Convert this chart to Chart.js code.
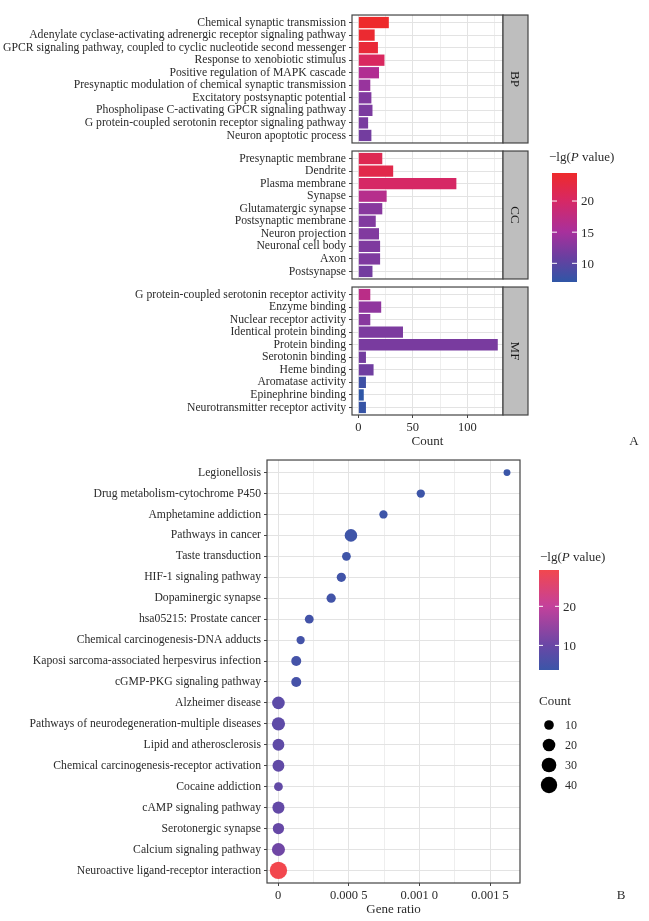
<!DOCTYPE html>
<html>
<head>
<meta charset="utf-8">
<script src="https://cdn.jsdelivr.net/npm/chart.js@4.4.0/dist/chart.umd.min.js"></script>
<style>
  html, body { margin: 0; padding: 0; background: #fff; }
  #wrap { position: relative; width: 649px; height: 921px; overflow: hidden; }
  #wrap canvas { position: absolute; left: 0; }
</style>
</head>
<body>
<div id="wrap"></div>
<script>
// ---- data: GO enrichment (panel A) ----
const bpTerms = ["Chemical synaptic transmission", "Adenylate cyclase-activating adrenergic receptor signaling pathway",
  "GPCR signaling pathway, coupled to cyclic nucleotide second messenger", "Response to xenobiotic stimulus",
  "Positive regulation of MAPK cascade", "Presynaptic modulation of chemical synaptic transmission",
  "Excitatory postsynaptic potential", "Phospholipase C-activating GPCR signaling pathway",
  "G protein-coupled serotonin receptor signaling pathway", "Neuron apoptotic process"];
const bpCounts = [28, 15, 18, 24, 19, 11, 12, 13, 9, 12];
const bpLogP = [24.5, 24.0, 23.5, 20.5, 16.0, 14.0, 12.5, 12.2, 12.0, 11.6];

const ccTerms = ["Presynaptic membrane", "Dendrite", "Plasma membrane", "Synapse", "Glutamatergic synapse",
  "Postsynaptic membrane", "Neuron projection", "Neuronal cell body", "Axon", "Postsynapse"];
const ccCounts = [22, 32, 90, 26, 22, 16, 19, 20, 20, 13];
const ccLogP = [21.5, 22.0, 20.0, 16.5, 13.0, 12.5, 12.5, 12.4, 12.4, 11.6];

const mfTerms = ["G protein-coupled serotonin receptor activity", "Enzyme binding", "Nuclear receptor activity",
  "Identical protein binding", "Protein binding", "Serotonin binding", "Heme binding", "Aromatase activity",
  "Epinephrine binding", "Neurotransmitter receptor activity"];
const mfCounts = [11, 21, 11, 41, 128, 7, 14, 7, 5, 7];
const mfLogP = [17.0, 13.5, 13.0, 12.2, 12.0, 11.6, 11.4, 8.0, 7.0, 7.5];

const countTicksA = [0, 25, 50, 75, 100, 125];
const colorTicksA = [10, 15, 20];

// ---- data: KEGG enrichment (panel B) ----
const keggTerms = ["Legionellosis", "Drug metabolism-cytochrome P450", "Amphetamine addiction", "Pathways in cancer",
  "Taste transduction", "HIF-1 signaling pathway", "Dopaminergic synapse", "hsa05215: Prostate cancer",
  "Chemical carcinogenesis-DNA adducts", "Kaposi sarcoma-associated herpesvirus infection", "cGMP-PKG signaling pathway",
  "Alzheimer disease", "Pathways of neurodegeneration-multiple diseases", "Lipid and atherosclerosis",
  "Chemical carcinogenesis-receptor activation", "Cocaine addiction", "cAMP signaling pathway", "Serotonergic synapse",
  "Calcium signaling pathway", "Neuroactive ligand-receptor interaction"];
const keggRatio = [0.00162, 0.00101, 0.000746, 0.000516, 0.000484, 0.000448, 0.000376, 0.000221, 0.00016, 0.000129,
  0.000129, 0.000003, 0.000003, 0.000003, 0.000003, 0.000003, 0.000003, 0.000003, 0.000003, 0.000003];
const keggCount = [5, 7, 7, 20, 8, 9, 9, 8, 7, 11, 11, 20, 23, 17, 17, 8, 18, 15, 22, 46];
const keggLogP = [3.7, 4.0, 4.0, 4.3, 4.2, 4.5, 4.6, 4.8, 4.9, 5.0, 5.2, 8.2, 8.4, 8.6, 8.9, 9.0, 9.2, 9.5, 10.8, 29.3];

const ratioTicks = [0, 0.00025, 0.0005, 0.00075, 0.001, 0.00125, 0.0015];
const ratioTickLabels = ["0", "0.000 5", "0.001 0", "0.001 5"];
const colorTicksB = [10, 20];
const countBreaks = [10, 20, 30, 40];

// ---- styling ----
const W = 649;
const SERIF = '"Liberation Serif", "Times New Roman", serif';
const INK = '#2b2b2b';
const FRAME = '#444444';
const GRID = '#e3e3e3';
const GRID_MINOR = '#eeeeee';

const gradA = [[0, '#2f56a6'], [0.23, '#6a3fa0'], [0.46, '#a8309c'], [0.74, '#d62866'], [1, '#ee2a2b']];
const gradB = [[0, '#3b56a8'], [0.25, '#6a47a6'], [0.64, '#c4419b'], [1, '#f2474e']];

function hexRgb(h) { return [1, 3, 5].map(i => parseInt(h.substr(i, 2), 16)); }
function colorAt(stops, t) {
  t = Math.max(0, Math.min(1, t));
  for (let i = 1; i < stops.length; i++) {
    if (t <= stops[i][0]) {
      const f = (t - stops[i - 1][0]) / (stops[i][0] - stops[i - 1][0]);
      const a = hexRgb(stops[i - 1][1]), b = hexRgb(stops[i][1]);
      return 'rgb(' + a.map((v, k) => Math.round(v + (b[k] - v) * f)).join(',') + ')';
    }
  }
  return stops[stops.length - 1][1];
}

const allLogA = bpLogP.concat(ccLogP, mfLogP);
const minA = Math.min(...allLogA), maxA = Math.max(...allLogA);
const minB = Math.min(...keggLogP), maxB = Math.max(...keggLogP);
const fillA = v => colorAt(gradA, (v - minA) / (maxA - minA));
const fillB = v => colorAt(gradB, (v - minB) / (maxB - minB));
const dotRadius = c => 2.5 + 0.95 * Math.sqrt(Math.max(c - 4, 0));

function mkCanvas(top, height) {
  const c = document.createElement('canvas');
  c.width = W; c.height = height;
  c.style.top = top + 'px';
  c.style.width = W + 'px'; c.style.height = height + 'px';
  document.getElementById('wrap').appendChild(c);
  return c;
}

function drawColorbar(ctx, o) {
  const { x0, x1, top, bottom, vmin, vmax, stops, ticks, tx, ty } = o;
  const g = ctx.createLinearGradient(0, bottom, 0, top);
  stops.forEach(s => g.addColorStop(s[0], s[1]));
  ctx.fillStyle = g;
  ctx.fillRect(x0, top, x1 - x0, bottom - top);
  ctx.strokeStyle = '#fff';
  ctx.lineWidth = 1;
  ctx.fillStyle = INK;
  ctx.font = '13px ' + SERIF;
  ctx.textAlign = 'left';
  ctx.textBaseline = 'middle';
  ticks.forEach(v => {
    const y = bottom - (v - vmin) / (vmax - vmin) * (bottom - top);
    const w = (x1 - x0) * 0.2;
    ctx.beginPath();
    ctx.moveTo(x0, y); ctx.lineTo(x0 + w, y);
    ctx.moveTo(x1 - w, y); ctx.lineTo(x1, y);
    ctx.stroke();
    ctx.fillText(String(v), x1 + 4, y + 1);
  });
  // title: −lg(P value) with italic P
  let x = tx;
  [['−lg(', ''], ['P', 'italic '], [' value)', '']].forEach(([s, st]) => {
    ctx.font = st + '13px ' + SERIF;
    ctx.fillText(s, x, ty);
    x += ctx.measureText(s).width;
  });
}

const framePlugin = {
  id: 'frame',
  afterDraw(chart, args, opts) {
    const { ctx, chartArea: a } = chart;
    ctx.save();
    ctx.strokeStyle = FRAME;
    ctx.lineWidth = 1.2;
    ctx.strokeRect(a.left, a.top, a.right - a.left, a.bottom - a.top);
    if (opts.strip) {
      const sw = 25;
      ctx.fillStyle = '#bebebe';
      ctx.fillRect(a.right, a.top, sw, a.bottom - a.top);
      ctx.strokeRect(a.right, a.top, sw, a.bottom - a.top);
      ctx.translate(a.right + sw / 2, (a.top + a.bottom) / 2);
      ctx.rotate(Math.PI / 2);
      ctx.fillStyle = '#1a1a1a';
      ctx.font = '13px ' + SERIF;
      ctx.textAlign = 'center';
      ctx.textBaseline = 'middle';
      ctx.fillText(opts.strip, 0, 1);
    }
    ctx.restore();
    if (opts.extra) { ctx.save(); opts.extra(ctx, chart); ctx.restore(); }
  }
};

function facetPanel(terms, counts, logp, strip, top, showX, extra) {
  const H = showX ? 10 + 128 + 38 : 10 + 128 + 10;
  const cv = mkCanvas(top, H);
  const n = terms.length;
  return new Chart(cv, {
    type: 'bar',
    data: {
      datasets: [{
        data: counts.map((c, i) => ({ x: c, y: i })),
        backgroundColor: logp.map(fillA),
        borderWidth: 0,
        barPercentage: 0.9,
        categoryPercentage: 1
      }]
    },
    options: {
      indexAxis: 'y',
      responsive: false,
      animation: false,
      layout: { padding: { top: 10, bottom: showX ? 0 : 10, left: 0, right: W - 503 } },
      plugins: { legend: { display: false }, tooltip: { enabled: false }, frame: { strip, extra } },
      scales: {
        x: {
          type: 'linear', min: -5.8, max: 132.8,
          afterBuildTicks: s => { s.ticks = countTicksA.map(v => ({ value: v })); },
          afterFit: s => { s.height = showX ? 38 : 0; },
          border: { display: false },
          grid: {
            color: c => (c.tick && c.tick.value % 50 === 0) ? GRID : GRID_MINOR,
            lineWidth: 1,
            drawTicks: showX, tickLength: 3,
            tickColor: c => (c.tick && c.tick.value % 50 === 0) ? FRAME : 'rgba(0,0,0,0)'
          },
          ticks: {
            display: showX, padding: 2, color: INK, maxRotation: 0,
            font: { family: SERIF, size: 12.5 },
            callback: v => (v % 50 === 0 ? String(v) : '')
          },
          title: { display: showX, text: 'Count', color: INK, font: { family: SERIF, size: 13 } }
        },
        y: {
          type: 'linear', min: -0.6, max: n - 0.4, reverse: true,
          offset: false,
          afterBuildTicks: s => { s.ticks = terms.map((t, i) => ({ value: i })); },
          afterFit: s => { s.width = 352; },
          border: { display: false },
          grid: { offset: false, color: GRID, lineWidth: 1, tickLength: 3, tickColor: FRAME },
          ticks: {
            padding: 3, color: INK, autoSkip: false,
            font: { family: SERIF, size: 11.7 },
            callback: v => terms[Math.round(v)]
          }
        }
      }
    },
    plugins: [framePlugin]
  });
}

facetPanel(bpTerms, bpCounts, bpLogP, 'BP', 5, false);
facetPanel(ccTerms, ccCounts, ccLogP, 'CC', 141, false, (ctx) => {
  const off = 141;
  drawColorbar(ctx, {
    x0: 552, x1: 577, top: 173 - off, bottom: 282 - off, vmin: minA, vmax: maxA,
    stops: gradA, ticks: colorTicksA, tx: 549, ty: 158 - off
  });
});
facetPanel(mfTerms, mfCounts, mfLogP, 'MF', 277, true, (ctx) => {
  ctx.fillStyle = INK;
  ctx.font = '13px ' + SERIF;
  ctx.textAlign = 'center';
  ctx.textBaseline = 'middle';
  ctx.fillText('A', 634, 442 - 277);
});

// ---- panel B: KEGG bubble chart ----
const topB = 450;
const cvB = mkCanvas(topB, 921 - topB);
new Chart(cvB, {
  type: 'scatter',
  data: {
    datasets: [{
      data: keggRatio.map((r, i) => ({ x: r, y: i })),
      backgroundColor: keggLogP.map(fillB),
      borderWidth: 0,
      pointRadius: c => dotRadius(keggCount[c.dataIndex]),
      pointHoverRadius: c => dotRadius(keggCount[c.dataIndex])
    }]
  },
  options: {
    responsive: false,
    animation: false,
    layout: { padding: { top: 9, bottom: 0, left: 0, right: W - 520 } },
    plugins: {
      legend: { display: false }, tooltip: { enabled: false },
      frame: {
        extra: (ctx) => {
          drawColorbar(ctx, {
            x0: 539, x1: 559, top: 570 - topB, bottom: 670 - topB, vmin: minB, vmax: maxB,
            stops: gradB, ticks: colorTicksB, tx: 540, ty: 558 - topB
          });
          ctx.fillStyle = INK;
          ctx.font = '13px ' + SERIF;
          ctx.textAlign = 'left';
          ctx.textBaseline = 'middle';
          ctx.fillText('Count', 539, 702 - topB);
          countBreaks.forEach((c, i) => {
            const y = 725 + i * 20 - topB;
            ctx.fillStyle = '#000';
            ctx.beginPath();
            ctx.arc(549, y, dotRadius(c), 0, Math.PI * 2);
            ctx.fill();
            ctx.fillStyle = INK;
            ctx.font = '12px ' + SERIF;
            ctx.fillText(String(c), 565, y + 1);
          });
          ctx.font = '13px ' + SERIF;
          ctx.textAlign = 'center';
          ctx.fillText('B', 621, 896 - topB);
        }
      }
    },
    scales: {
      x: {
        type: 'linear', min: -0.0000779, max: 0.001712,
        afterBuildTicks: s => { s.ticks = ratioTicks.map(v => ({ value: v })); },
        afterFit: s => { s.height = 38; },
        border: { display: false },
        grid: {
          color: c => (c.index % 2 === 0) ? GRID : GRID_MINOR,
          lineWidth: 1, tickLength: 3,
          tickColor: c => (c.index % 2 === 0) ? FRAME : 'rgba(0,0,0,0)'
        },
        ticks: {
          padding: 2, color: INK, maxRotation: 0, autoSkip: false,
          font: { family: SERIF, size: 12.5 },
          callback: (v, i) => (i % 2 === 0 ? ratioTickLabels[i / 2] : '')
        },
        title: { display: true, text: 'Gene ratio', color: INK, font: { family: SERIF, size: 13 } }
      },
      y: {
        type: 'linear', min: -0.6, max: keggTerms.length - 0.4, reverse: true,
        afterBuildTicks: s => { s.ticks = keggTerms.map((t, i) => ({ value: i })); },
        afterFit: s => { s.width = 267; },
        border: { display: false },
        grid: { color: GRID, lineWidth: 1, tickLength: 3, tickColor: FRAME },
        ticks: {
          padding: 3, color: INK, autoSkip: false,
          font: { family: SERIF, size: 11.7 },
          callback: v => keggTerms[Math.round(v)]
        }
      }
    }
  },
  plugins: [framePlugin]
});
</script>
</body>
</html>
